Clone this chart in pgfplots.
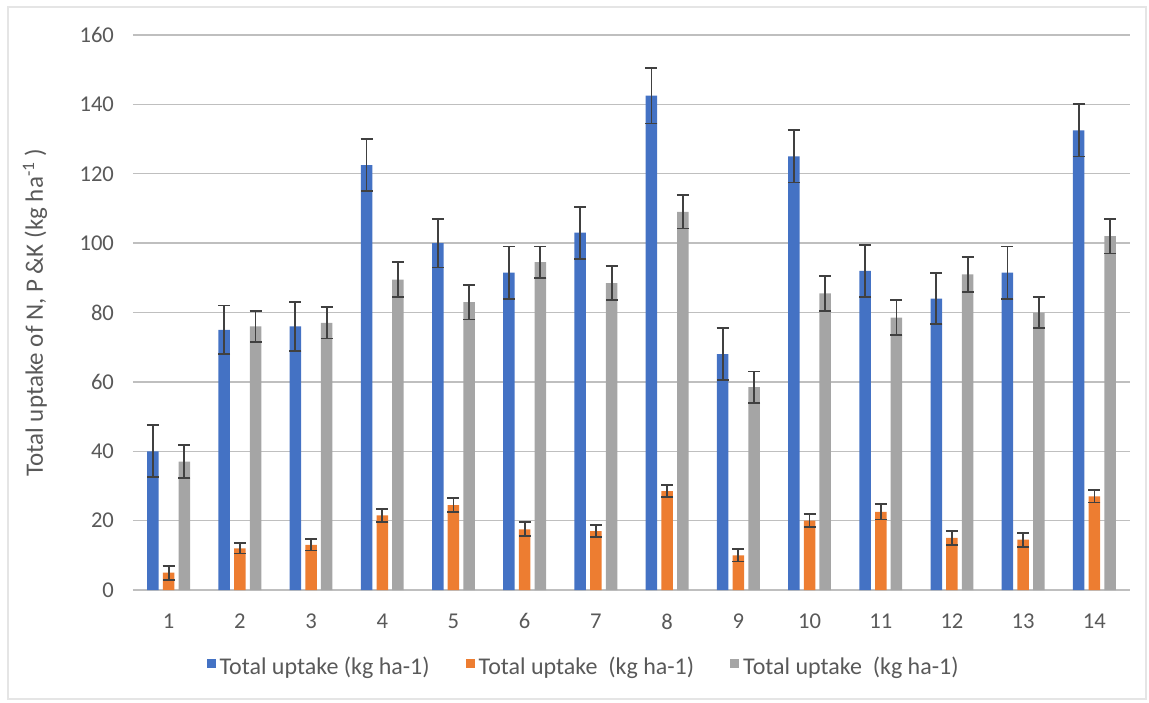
\documentclass[border=0pt]{standalone}
\usepackage{pgfplots}
\pgfplotsset{compat=1.18}
\usepackage{pgfplotstable}
\usepackage{fontspec}
\setmainfont{Carlito}
\definecolor{cblue}{HTML}{4472C4}
\definecolor{corange}{HTML}{ED7D31}
\definecolor{cgray}{HTML}{A5A5A5}
\definecolor{ctext}{HTML}{595959}
\definecolor{cerr}{HTML}{404040}
\definecolor{cgrid}{HTML}{BFBFBF}

\pgfplotstableread{
x   b     be   o     oe   g     ge
1   40    7.5  5     2.0  37    4.8
2   75    7.0  12    1.5  76    4.5
3   76    7.0  13    1.6  77    4.5
4   122.5 7.5  21.5  1.8  89.5  5.0
5   100   7.0  24.5  2.0  83    5.0
6   91.5  7.5  17.5  2.0  94.5  4.5
7   103   7.5  17    1.8  88.5  5.0
8   142.5 8.0  28.5  1.8  109   4.8
9   68    7.5  10    1.8  58.5  4.5
10  125   7.5  20    1.8  85.5  5.0
11  92    7.5  22.5  2.2  78.5  5.0
12  84    7.3  15    2.0  91    5.0
13  91.5  7.5  14.5  2.0  80    4.5
14  132.5 7.5  27    1.8  102   5.0
}\uptake

\begin{document}
\begin{tikzpicture}[x=1pt,y=1pt]
\useasboundingbox (-66.5,-56) rectangle (508,295);
\draw[gray!20, line width=1pt] (-62.5,-54.5) rectangle (506.5,291.5);
\begin{axis}[
    at={(0,0)}, anchor=south west,
    scale only axis, width=498.5pt, height=277.5pt,
    ybar,
    xmin=0.5, xmax=14.5, ymin=0, ymax=160,
    xtick={1,...,14}, ytick={0,20,...,160},
    axis x line*=bottom, axis y line*=left,
    y axis line style={draw=none},
    x axis line style={cgrid, line width=0.8pt},
    ytick style={draw=none},
    xtick style={draw=none},
    extra x ticks={0.5,1.5,...,14.5},
    extra x tick labels={},
    extra x tick style={tick style={draw=cgrid, line width=0.8pt}, tick align=outside, major tick length=3.5pt, grid=none},
    ymajorgrids, grid style={cgrid, line width=0.7pt},
    tick label style={font=\fontsize{11.3}{13}\selectfont, text=ctext},
    xticklabel style={yshift=-4pt},
    yticklabel style={xshift=-6pt},
    /pgf/number format/assume math mode=true,
    ylabel={Total uptake of N, P \&K (kg ha\textsuperscript{-1} )},
    ylabel style={font=\fontsize{12.5}{14}\selectfont, text=ctext, at={(axis description cs:-0.0983,0.5)}, anchor=center},
    legend columns=3,
    legend style={draw=none, fill=none, font=\fontsize{12}{14}\selectfont, text=ctext,
        at={(axis description cs:0.453,-0.139)}, anchor=center,
        /tikz/every even column/.append style={column sep=16pt}},
    legend image code/.code={\fill[#1] (0pt,-0.5pt) rectangle (4.5pt,4pt);},
    error bars/error bar style={cerr, line width=0.9pt},
    error bars/error mark options={cerr, line width=0.9pt, mark size=3pt, rotate=90},
]
\addplot[fill=cblue, draw=none, bar width=5.75pt, bar shift=-7.85pt,
    error bars/.cd, y dir=both, y explicit] table[x=x, y=b, y error=be] {\uptake};
\addlegendentry{Total uptake (kg ha-1)}
\addplot[fill=corange, draw=none, bar width=5.75pt, bar shift=0pt,
    error bars/.cd, y dir=both, y explicit] table[x=x, y=o, y error=oe] {\uptake};
\addlegendentry{Total uptake\ \ (kg ha-1)}
\addplot[fill=cgray, draw=none, bar width=5.75pt, bar shift=7.85pt,
    error bars/.cd, y dir=both, y explicit] table[x=x, y=g, y error=ge] {\uptake};
\addlegendentry{Total uptake\ \ (kg ha-1)}
\end{axis}
\end{tikzpicture}
\end{document}
